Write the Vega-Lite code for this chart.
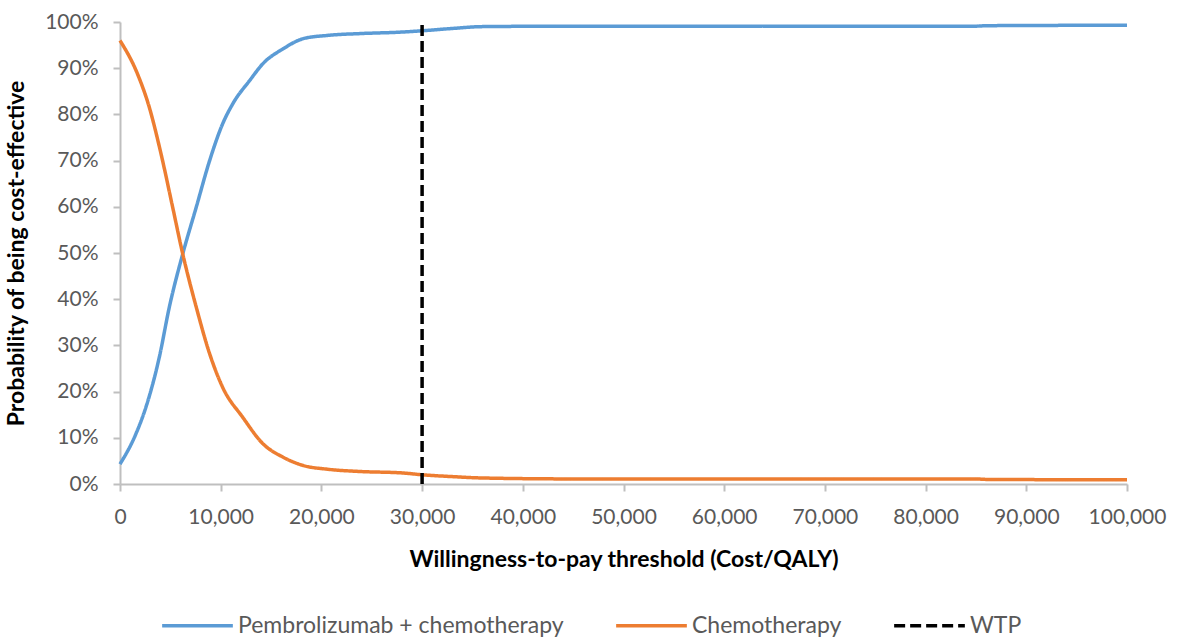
{
  "$schema": "https://vega.github.io/schema/vega-lite/v6.json",
  "width": 1007,
  "height": 462,
  "autosize": {"type": "none"},
  "padding": {"left": 120, "top": 22, "right": 52, "bottom": 156},
  "background": "white",
  "config": {
    "view": {"stroke": null},
    "font": "Lato",
    "axis": {
      "grid": false,
      "domainColor": "#bfbfbf",
      "domainWidth": 2,
      "tickColor": "#bfbfbf",
      "tickWidth": 2,
      "tickSize": 7,
      "labelColor": "#595959",
      "labelFontSize": 21,
      "labelFont": "Lato",
      "labelOverlap": false,
      "labelFlush": false,
      "titleFont": "Lato",
      "titleFontSize": 23,
      "titleFontWeight": "bold",
      "titleColor": "#000000"
    },
    "legend": {
      "labelFont": "Lato",
      "labelFontSize": 23,
      "labelColor": "#595959",
      "labelLimit": 500
    }
  },
  "data": {
    "values": [
      {"wtp": 0, "p": 0.043, "series": "Pembrolizumab + chemotherapy"},
      {"wtp": 1570, "p": 0.108, "series": "Pembrolizumab + chemotherapy"},
      {"wtp": 2570, "p": 0.166, "series": "Pembrolizumab + chemotherapy"},
      {"wtp": 3900, "p": 0.274, "series": "Pembrolizumab + chemotherapy"},
      {"wtp": 4900, "p": 0.383, "series": "Pembrolizumab + chemotherapy"},
      {"wtp": 6230, "p": 0.498, "series": "Pembrolizumab + chemotherapy"},
      {"wtp": 7570, "p": 0.599, "series": "Pembrolizumab + chemotherapy"},
      {"wtp": 8900, "p": 0.70, "series": "Pembrolizumab + chemotherapy"},
      {"wtp": 10200, "p": 0.78, "series": "Pembrolizumab + chemotherapy"},
      {"wtp": 11200, "p": 0.823, "series": "Pembrolizumab + chemotherapy"},
      {"wtp": 12900, "p": 0.874, "series": "Pembrolizumab + chemotherapy"},
      {"wtp": 14200, "p": 0.91, "series": "Pembrolizumab + chemotherapy"},
      {"wtp": 16200, "p": 0.942, "series": "Pembrolizumab + chemotherapy"},
      {"wtp": 18200, "p": 0.964, "series": "Pembrolizumab + chemotherapy"},
      {"wtp": 20600, "p": 0.971, "series": "Pembrolizumab + chemotherapy"},
      {"wtp": 23900, "p": 0.975, "series": "Pembrolizumab + chemotherapy"},
      {"wtp": 27800, "p": 0.978, "series": "Pembrolizumab + chemotherapy"},
      {"wtp": 30000, "p": 0.981, "series": "Pembrolizumab + chemotherapy"},
      {"wtp": 33000, "p": 0.986, "series": "Pembrolizumab + chemotherapy"},
      {"wtp": 36000, "p": 0.99, "series": "Pembrolizumab + chemotherapy"},
      {"wtp": 45000, "p": 0.991, "series": "Pembrolizumab + chemotherapy"},
      {"wtp": 60000, "p": 0.991, "series": "Pembrolizumab + chemotherapy"},
      {"wtp": 85000, "p": 0.991, "series": "Pembrolizumab + chemotherapy"},
      {"wtp": 86000, "p": 0.992, "series": "Pembrolizumab + chemotherapy"},
      {"wtp": 100000, "p": 0.993, "series": "Pembrolizumab + chemotherapy"},
      {"wtp": 0, "p": 0.96, "series": "Chemotherapy"},
      {"wtp": 1730, "p": 0.888, "series": "Chemotherapy"},
      {"wtp": 2900, "p": 0.816, "series": "Chemotherapy"},
      {"wtp": 4070, "p": 0.715, "series": "Chemotherapy"},
      {"wtp": 5230, "p": 0.599, "series": "Chemotherapy"},
      {"wtp": 6230, "p": 0.498, "series": "Chemotherapy"},
      {"wtp": 7570, "p": 0.383, "series": "Chemotherapy"},
      {"wtp": 8900, "p": 0.282, "series": "Chemotherapy"},
      {"wtp": 10200, "p": 0.209, "series": "Chemotherapy"},
      {"wtp": 12200, "p": 0.144, "series": "Chemotherapy"},
      {"wtp": 14200, "p": 0.087, "series": "Chemotherapy"},
      {"wtp": 16200, "p": 0.058, "series": "Chemotherapy"},
      {"wtp": 18200, "p": 0.04, "series": "Chemotherapy"},
      {"wtp": 20600, "p": 0.032, "series": "Chemotherapy"},
      {"wtp": 23900, "p": 0.027, "series": "Chemotherapy"},
      {"wtp": 28000, "p": 0.024, "series": "Chemotherapy"},
      {"wtp": 30000, "p": 0.02, "series": "Chemotherapy"},
      {"wtp": 33000, "p": 0.016, "series": "Chemotherapy"},
      {"wtp": 36000, "p": 0.013, "series": "Chemotherapy"},
      {"wtp": 45000, "p": 0.011, "series": "Chemotherapy"},
      {"wtp": 85000, "p": 0.011, "series": "Chemotherapy"},
      {"wtp": 86000, "p": 0.01, "series": "Chemotherapy"},
      {"wtp": 100000, "p": 0.009, "series": "Chemotherapy"},
      {"wtp": 30000, "p": 0, "series": "WTP"},
      {"wtp": 30000, "p": 1, "series": "WTP"}
    ]
  },
  "mark": {"type": "line", "interpolate": "monotone", "strokeWidth": 3.5},
  "encoding": {
    "x": {
      "field": "wtp",
      "type": "quantitative",
      "scale": {"domain": [0, 100000], "nice": false},
      "axis": {
        "values": [0, 10000, 20000, 30000, 40000, 50000, 60000, 70000, 80000, 90000, 100000],
        "format": ",.0f",
        "title": "Willingness-to-pay threshold (Cost/QALY)",
        "labelPadding": 15,
        "titlePadding": 21
      }
    },
    "y": {
      "field": "p",
      "type": "quantitative",
      "scale": {"domain": [0, 1], "nice": false},
      "axis": {
        "values": [0, 0.1, 0.2, 0.3, 0.4, 0.5, 0.6, 0.7, 0.8, 0.9, 1],
        "format": ".0%",
        "title": "Probability of being cost-effective",
        "labelPadding": 15,
        "titlePadding": 16
      }
    },
    "color": {
      "field": "series",
      "type": "nominal",
      "scale": {
        "domain": ["Pembrolizumab + chemotherapy", "Chemotherapy", "WTP"],
        "range": ["#5b9bd5", "#ed7d31", "#000000"]
      },
      "legend": {
        "title": null,
        "orient": "none",
        "direction": "horizontal",
        "legendX": 40,
        "legendY": 566,
        "symbolType": "stroke",
        "symbolSize": 5000,
        "symbolStrokeWidth": 3.5,
        "labelOffset": 3,
        "columnPadding": 45
      }
    },
    "strokeDash": {
      "field": "series",
      "type": "nominal",
      "scale": {
        "domain": ["Pembrolizumab + chemotherapy", "Chemotherapy", "WTP"],
        "range": [[1, 0], [1, 0], [11, 5]]
      },
      "legend": {
        "title": null,
        "orient": "none",
        "direction": "horizontal",
        "legendX": 40,
        "legendY": 566,
        "symbolType": "stroke",
        "symbolSize": 5000,
        "symbolStrokeWidth": 3.5,
        "labelOffset": 3,
        "columnPadding": 45
      }
    }
  }
}
